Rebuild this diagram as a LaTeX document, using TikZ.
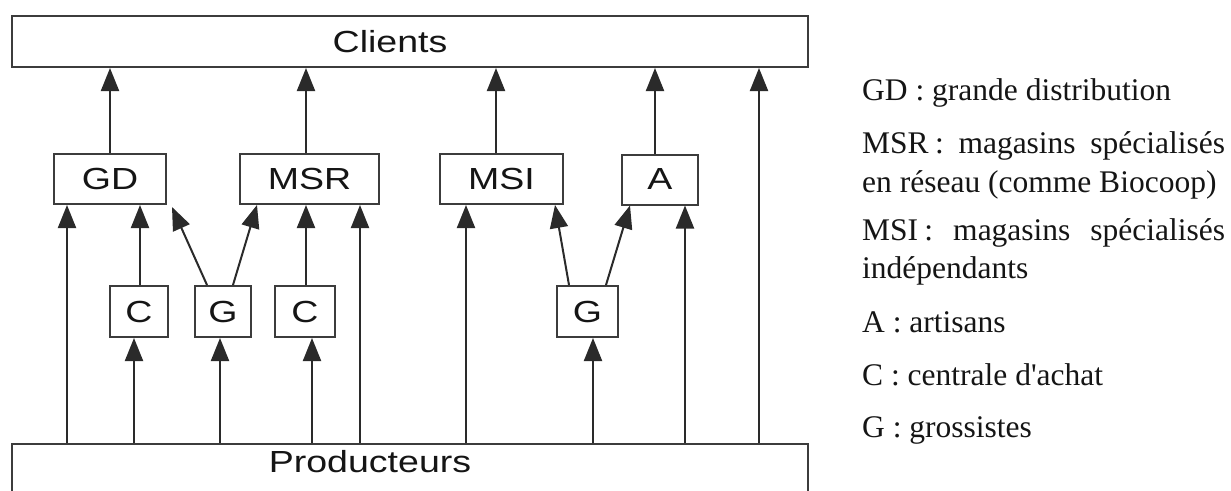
\documentclass[tikz,border=0pt]{standalone}
\usepackage{fontspec}
\setmainfont{Liberation Serif}
\newfontfamily\diagfont[FakeStretch=1.23]{Liberation Sans}
\newfontfamily\legfont[Ligatures=TeXOff]{Liberation Serif}
\usetikzlibrary{arrows.meta}
\definecolor{linec}{HTML}{2A2A2A}
\definecolor{boxc}{HTML}{3C3C3C}
\definecolor{txtc}{HTML}{151515}
\begin{document}
\begin{tikzpicture}[x=1pt,y=-1pt,
  box/.style={draw=boxc, line width=2pt, fill=white, inner sep=0pt,
    minimum height=50pt, font=\diagfont\fontsize{30.5}{36}\selectfont, text=txtc},
  lbl/.style={inner sep=0pt, anchor=base, font=\diagfont\fontsize{30.5}{36}\selectfont, text=txtc},
  arr/.style={draw=linec, line width=2pt, -{Triangle[length=23pt,width=18pt]}},
  leg/.style={anchor=base west, inner sep=0pt, font=\legfont\fontsize{31.5}{38}\selectfont, text=txtc}]
\clip (0,0) rectangle (1231,490);
\fill[white] (0,0) rectangle (1231,490);

% big boxes
\node[box, minimum width=796pt, minimum height=51pt] (clients) at (410,41.5) {};
\node[box, minimum width=796pt, minimum height=90pt] (prod) at (410,489) {};
\node[lbl] (clientslbl) at (390,52) {Clients};
\node[lbl] (prodlbl) at (370,472) {Producteurs};

% middle boxes
\node[box, minimum width=112pt] (gd) at (110,179) {GD};
\node[box, minimum width=139pt] (msr) at (309.5,179) {MSR};
\node[box, minimum width=123pt] (msi) at (501.5,179) {MSI};
\node[box, minimum width=76pt] (a) at (660,179.5) {A};

% lower boxes
\node[box, minimum width=58pt, minimum height=51pt] (c1) at (139,311.5) {C};
\node[box, minimum width=56pt, minimum height=51pt] (g1) at (223,311.5) {G};
\node[box, minimum width=60pt, minimum height=51pt] (c2) at (305,311.5) {C};
\node[box, minimum width=61pt, minimum height=51pt] (g2) at (587.5,311.5) {G};

% to clients
\draw[arr] (gd.north -| 110,0) -- (clients.south -| 110,0);
\draw[arr] (msr.north -| 306,0) -- (clients.south -| 306,0);
\draw[arr] (msi.north -| 496,0) -- (clients.south -| 496,0);
\draw[arr] (a.north -| 655,0) -- (clients.south -| 655,0);
\draw[arr] (prod.north -| 759,0) -- (clients.south -| 759,0);

% into GD / MSR / MSI / A
\draw[arr] (prod.north -| 67,0) -- (gd.south -| 67,0);
\draw[arr] (c1.north -| 140,0) -- (gd.south -| 140,0);
\draw[arr] (g1.north -| 207,0) -- ([xshift=5pt,yshift=-2pt]gd.south east);
\draw[arr] (g1.north -| 233,0) -- (msr.south -| 257,0);
\draw[arr] (c2.north -| 306,0) -- (msr.south -| 306,0);
\draw[arr] (prod.north -| 360,0) -- (msr.south -| 360,0);
\draw[arr] (prod.north -| 466,0) -- (msi.south -| 466,0);
\draw[arr] (g2.north -| 569,0) -- (msi.south -| 555,0);
\draw[arr] (g2.north -| 606,0) -- (a.south -| 630,0);
\draw[arr] (prod.north -| 685,0) -- (a.south -| 685,0);

% into C / G
\draw[arr] (prod.north -| 134,0) -- (c1.south -| 134,0);
\draw[arr] (prod.north -| 220,0) -- (g1.south -| 220,0);
\draw[arr] (prod.north -| 312,0) -- (c2.south -| 312,0);
\draw[arr] (prod.north -| 593,0) -- (g2.south -| 593,0);

% legend
\node[leg] (l1) at (862,100) {GD : grande distribution};
\node[leg] (l2) at (862,153) {\makebox[363pt][s]{MSR\kern.2em: magasins spécialisés}};
\node[leg] (l3) at (862,192) {en réseau (comme Biocoop)};
\node[leg] (l4) at (862,240) {\makebox[363pt][s]{MSI\kern.2em: magasins spécialisés}};
\node[leg] (l5) at (862,278) {indépendants};
\node[leg] (l6) at (862,332) {A : artisans};
\node[leg] (l7) at (862,385) {C : centrale d'achat};
\node[leg] (l8) at (862,437) {G : grossistes};
\end{tikzpicture}
\end{document}
